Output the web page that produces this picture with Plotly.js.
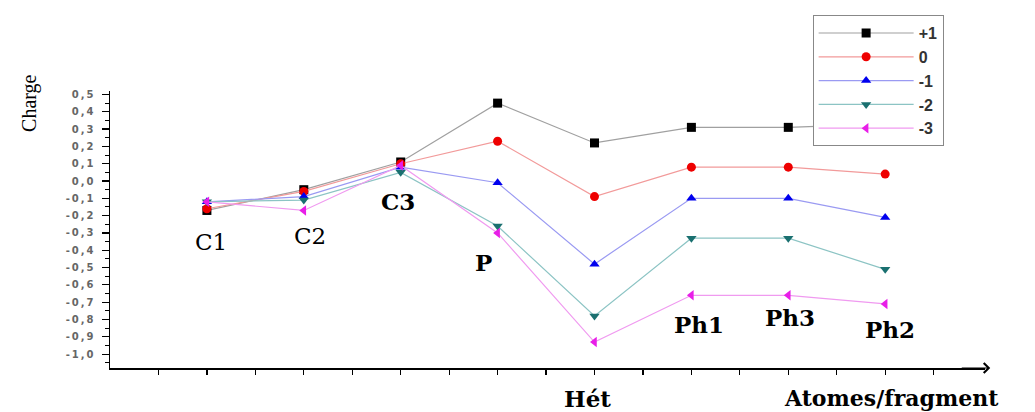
<!DOCTYPE html>
<html><head><meta charset="utf-8">
<script src="https://cdn.plot.ly/plotly-3.0.1.min.js"></script>
<style>
body{margin:0;background:#fff}
.ytick text{letter-spacing:2px}
</style>
</head><body><div id="chart" style="width:1035px;height:412px"></div>
<script>
// ---- data ----
const categories = ['C1','C2','C3','P','Hét','Ph1','Ph3','Ph2'];
const seriesNames = ['+1','0','-1','-2','-3'];
const chargePlus1  = [-0.17,-0.05, 0.11, 0.45, 0.22, 0.31, 0.31, 0.33];
const chargeZero   = [-0.16,-0.06, 0.10, 0.23,-0.09, 0.08, 0.08, 0.04];
const chargeMinus1 = [-0.12,-0.09, 0.08,-0.01,-0.48,-0.10,-0.10,-0.21];
const chargeMinus2 = [-0.12,-0.11, 0.05,-0.26,-0.78,-0.33,-0.33,-0.51];
const chargeMinus3 = [-0.12,-0.17, 0.09,-0.30,-0.93,-0.66,-0.66,-0.71];
const yTickVals = [0.5,0.4,0.3,0.2,0.1,0.0,-0.1,-0.2,-0.3,-0.4,-0.5,-0.6,-0.7,-0.8,-0.9,-1.0];
const yTickText = ['0,5','0,4','0,3','0,2','0,1','0,0','-0,1','-0,2','-0,3','-0,4','-0,5','-0,6','-0,7','-0,8','-0,9','-1,0'];
const yTitle = 'Charge';
const xTitle = 'Atomes/fragment';

// ---- build ----
const xIdx = categories.map((c,i)=>i+1);
const seriesValues = [chargePlus1, chargeZero, chargeMinus1, chargeMinus2, chargeMinus3];
const markerColors = ['#000000','#ee0000','#0000ee','#1a7070','#e81ee8'];
const lineColors   = ['#a0a0a0','#f29a9a','#9a9af2','#8cc4c4','#f09af0'];
const symbols      = ['square','circle','triangle-up','triangle-down','triangle-left'];

const traces = seriesValues.map((vals,k)=>({
  type:'scatter', mode:'lines+markers', name:seriesNames[k],
  x:xIdx, y:vals,
  line:{color:lineColors[k], width:1.2},
  marker:{color:markerColors[k], symbol:symbols[k], size:9, line:{width:0}},
  cliponaxis:false
}));

const xTicks = [];
for(let t=0.5;t<=8.5001;t+=0.5) xTicks.push(t);

const serif = 'DejaVu Serif, Liberation Serif, serif';
function lab(text, ci, y, bold, xoff){
  return {text: text, x: ci + (xoff||0), y: y, xref:'x', yref:'y', showarrow:false,
    xanchor:'center', yanchor:'middle',
    font:{family:serif, size:23, color:'#000', weight: bold?700:400}};
}
const annotations = [
  lab(categories[0], 1, -0.35, false, 0.04),
  lab(categories[1], 2, -0.32, false, 0.06),
  lab(categories[2], 3, -0.12, true,  -0.03),
  lab(categories[3], 4, -0.47, true,  -0.15),
  lab(categories[5], 6, -0.83, true,  0.08),
  lab(categories[6], 7, -0.79, true,  0.02),
  lab(categories[7], 8, -0.86, true,  0.05),
  {text:categories[4], x:4.93, y:-0.11, xref:'x', yref:'paper', showarrow:false, xanchor:'center', yanchor:'middle',
   font:{family:serif, size:23, color:'#000', weight:700}},
  {text:xTitle, x:6.93, y:-0.11, xref:'x', yref:'paper', showarrow:false, xanchor:'left', yanchor:'middle',
   font:{family:serif, size:22, color:'#000', weight:700}},
  {text:yTitle, x:-0.0914, y:0.957, xref:'paper', yref:'paper', showarrow:false, textangle:-90,
   xanchor:'center', yanchor:'middle', font:{family:'Liberation Serif, serif', size:20, color:'#000'}},
  {text:'', x:1.006, y:0, xref:'paper', yref:'paper', ax:-30, ay:0,
   showarrow:true, arrowhead:4, arrowsize:1.6, arrowwidth:1.2, arrowcolor:'#000'}
];

const layout = {
  width:1035, height:412,
  margin:{l:110, r:50, t:91, b:44},
  paper_bgcolor:'#fff', plot_bgcolor:'#fff',
  showlegend:true,
  legend:{x:0.803, y:1.274, xanchor:'left', yanchor:'top', bgcolor:'#fff',
    bordercolor:'#888', borderwidth:1, itemwidth:95, tracegroupgap:0,
    font:{family:'Liberation Sans, Arial, sans-serif', size:16, color:'#333', weight:700}},
  xaxis:{range:[0,9.03], showgrid:false, zeroline:false, showline:true, linecolor:'#000', linewidth:1.5,
    tickmode:'array', tickvals:xTicks, ticks:'outside', ticklen:5, tickwidth:1.2, tickcolor:'#000',
    showticklabels:false, fixedrange:true},
  yaxis:{range:[-1.08,0.52], showgrid:false, zeroline:false, showline:true, linecolor:'#000', linewidth:1.5,
    tickmode:'array', tickvals:yTickVals, ticktext:yTickText, ticks:'outside', ticklen:7, tickwidth:1.2, tickcolor:'#000',
    ticklabelstandoff:4,
    tickfont:{family:'DejaVu Sans, sans-serif', size:10, color:'#666', weight:700},
    minor:{tickmode:'linear', tick0:0, dtick:0.05, ticks:'outside', ticklen:4, tickcolor:'#000', tickwidth:1},
    fixedrange:true},
  annotations: annotations
};
Plotly.newPlot('chart', traces, layout, {staticPlot:true, displayModeBar:false});
</script>
</body></html>
